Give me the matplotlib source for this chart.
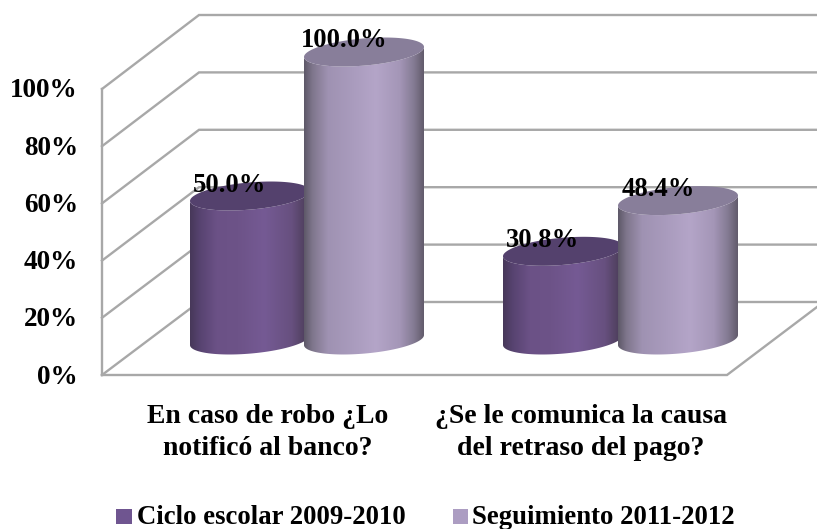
import numpy as np
import matplotlib
matplotlib.use('Agg')
import matplotlib.pyplot as plt
from matplotlib.colors import LinearSegmentedColormap
from matplotlib.patches import Polygon, Rectangle

categories = ['En caso de robo ¿Lo\nnotificó al banco?', '¿Se le comunica la causa\ndel retraso del pago?']
series_names = ['Ciclo escolar 2009-2010', 'Seguimiento 2011-2012']
ciclo = [50.0, 30.8]
seguimiento = [100.0, 48.4]
tick_values = [0, 20, 40, 60, 80, 100]

W, H = 817, 529
BASE, PX_PER_PCT = 340.0, 2.88


def pct(py):
    return (BASE - np.asarray(py, dtype=float)) / PX_PER_PCT


fig = plt.figure(figsize=(W / 100, H / 100), dpi=100, facecolor='white')
ax = fig.add_axes([0, 0, 1, 1])
ax.set_xlim(0, W)
ax.set_ylim(pct(H), pct(0))
ax.axis('off')
plt.rcParams['font.family'] = ['Liberation Serif', 'DejaVu Serif']

GRID = '#a8a8a8'
LW = 1.7
FX, BX, FY0, FSTEP, BY0, BSTEP = 102, 199, 375, 57.2, 302, 57.4
for v in tick_values:
    i = v / 20
    fy, by = FY0 - i * FSTEP, BY0 - i * BSTEP
    ax.plot([FX, BX, W], pct([fy, by, by]), color=GRID, lw=LW, solid_joinstyle='miter', zorder=1)
    ax.text(78, pct(fy + 2), f'{v}%', ha='right', va='center', fontsize=19.6, fontweight='bold', color='black')
ax.plot([FX, FX], pct([FY0, FY0 - 5 * FSTEP]), color=GRID, lw=LW, zorder=1)
ax.plot([FX, 727, W], pct([FY0, FY0, 307]), color=GRID, lw=LW, zorder=1, solid_joinstyle='miter')

dark = LinearSegmentedColormap.from_list('d', [(0, '#473859'), (.08, '#574370'), (.22, '#6b5186'), (.4, '#6d5388'),
                                               (.62, '#755a94'), (.85, '#67507f'), (.96, '#50405f'), (1, '#463a55')])
light = LinearSegmentedColormap.from_list('l', [(0, '#5d5868'), (.07, '#7f768c'), (.2, '#9f92b2'), (.4, '#a99bbd'),
                                                (.6, '#b4a5c8'), (.8, '#a496b7'), (.92, '#837a92'), (1, '#625b6c')])
A, B, TILT = 60.0, 13.6, 5.0
t = np.linspace(0, 2 * np.pi, 181)


def ell(cx, cy, tt):
    return cx + A * np.cos(tt), cy + B * np.sin(tt) - TILT * np.cos(tt)


def cylinder(cx, value, cmap, top, z):
    top_y = BASE - value * PX_PER_PCT
    front = np.linspace(0, np.pi, 91)
    bx, by = ell(cx, BASE, front)
    tx, ty = ell(cx, top_y, front[::-1])
    poly = Polygon(np.c_[np.r_[bx, tx], pct(np.r_[by, ty])], closed=True, transform=ax.transData, fc='none', ec='none')
    ax.add_patch(poly)
    im = ax.imshow(np.linspace(0, 1, 256)[None, :], cmap=cmap, aspect='auto', zorder=z,
                   extent=[cx - A, cx + A, pct(360), pct(top_y - 20)], interpolation='bilinear')
    im.set_clip_path(poly)
    ex, ey = ell(cx, top_y, t)
    ax.add_patch(Polygon(np.c_[ex, pct(ey)], closed=True, fc=top, ec='none', zorder=z + .1))


for k, (a, b, c1, c2) in enumerate(zip(ciclo, seguimiento, [250, 563], [364, 678])):
    cylinder(c1, a, dark, '#54416d', 2 + k)
    cylinder(c2, b, light, '#887e9a', 2.5 + k)
    for cx, v in ((c1, a), (c2, b)):
        ax.text(cx - 20, v + 11 / PX_PER_PCT, f'{v:.1f}%', ha='center', va='center', fontsize=19.2,
                fontweight='bold', color='black', zorder=6)

ax.set_xlim(0, W)
ax.set_ylim(pct(H), pct(0))

for x, label in zip([268, 581], categories):
    ax.text(x, pct(432.5), label, ha='center', va='center', fontsize=20, fontweight='bold', linespacing=1.41, color='black')

for sx, sw, tx, name, col in ((116, 16, 137, series_names[0], '#6f5590'), (453, 15, 472, series_names[1], '#ac9dc2')):
    ax.add_patch(Rectangle((sx, pct(524)), sw, 15 / PX_PER_PCT, fc=col, ec='none'))
    ax.text(tx, pct(517), name, ha='left', va='center', fontsize=19.3, fontweight='bold', color='black')

fig.savefig('out.png', dpi=100)
